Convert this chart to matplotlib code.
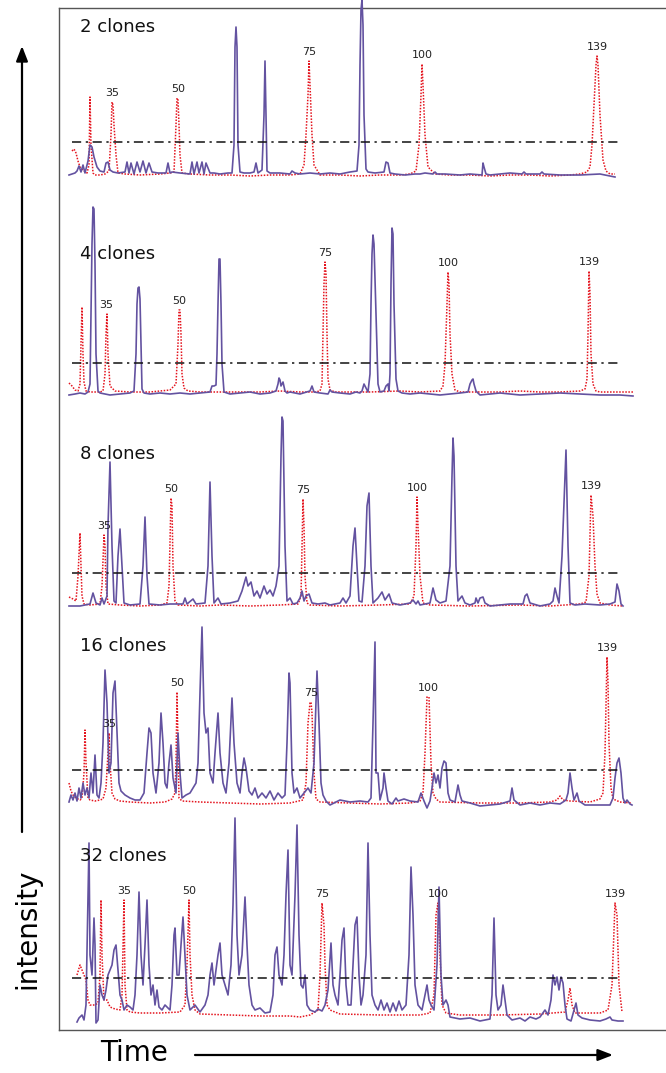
import matplotlib
matplotlib.use("Agg")
import matplotlib.pyplot as plt

# ---------------- data (time, intensity) ----------------
panel_labels = ["2 clones", "4 clones", "8 clones", "16 clones", "32 clones"]
marker_labels = ["35", "50", "75", "100", "139"]
thresholds = [33, 31, 33, 33, 37]

p1_sample = [(69,0),(72,1),(75,2),(77,4),(79,9),(81,3),(83,10),(85,2),(88,14),(90,30),(92,28),(94,18),(97,8),(100,4),
             (104,3),(106,12),(108,13),(110,5),(113,3),(118,2),(125,3),(127,13),(129,2),(131,12),(134,1),(137,13),(140,3),
             (143,14),(146,2),(149,12),(152,3),(158,2),(166,2),(168,12),(170,2),(172,3),(180,2),(190,1),(192,13),(194,1),
             (197,13),(199,2),(202,13),(204,1),(206,12),(210,2),(214,2),(220,1),(228,2),(232,2),(234,30),(235,128),(236,148),
             (237,128),(238,30),(240,3),(244,2),(250,2),(254,3),(256,12),(258,2),(262,5),(264,60),(265,114),(266,60),(267,4),
             (270,2),(280,2),(290,1),(292,4),(295,2),(300,1),(310,2),(320,1),(330,2),(340,1),(350,3),(357,4),(359,30),
             (360,110),(361,165),(362,175),(363,150),(364,60),(366,6),(368,3),(375,2),(384,3),(386,13),(388,12),(390,2),
             (395,1),(405,0),(415,1),(420,1),(425,2),(433,1),(435,3),(437,1),(445,1),(460,0),(470,1),(482,0),(483,12),
             (484,8),(486,1),(490,0),(500,1),(510,2),(522,1),(524,3),(526,1),(540,1),(542,3),(544,1),(560,0),(580,0),
             (600,1),(615,-2)]
p1_marker = [(72,24),(74,26),(76,22),(78,14),(80,8),(84,4),(87,2),(89,10),(90,78),(91,30),(93,2),(95,0),(100,0),(105,1),
             (109,4),(111,40),(112,73),(113,70),(114,50),(116,20),(118,2),(125,1),(140,0),(160,1),(170,2),(174,3),(176,50),
             (177,77),(178,75),(179,50),(180,20),(182,2),(190,1),(210,0),(230,0),(250,-1),(270,0),(290,0),(300,1),(304,10),
             (306,40),(308,80),(309,114),(310,90),(312,40),(314,10),(320,0),(340,0),(360,-1),(380,0),(400,0),(410,1),(416,4),
             (419,30),(421,80),(422,111),(423,90),(425,40),(428,8),(435,1),(450,0),(470,0),(490,-1),(510,0),(530,0),(550,-1),
             (570,0),(580,1),(587,3),(590,8),(592,30),(594,70),(596,110),(597,119),(598,110),(600,60),(603,15),(606,4),
             (610,1),(615,1)]

p2_sample = [(69,-1),(75,0),(80,1),(85,0),(88,2),(90,10),(91,80),(92,150),(93,187),(94,185),(95,130),(96,40),(98,3),
             (100,1),(105,0),(110,-1),(120,0),(130,1),(134,3),(136,40),(137,90),(138,106),(139,107),(140,95),(141,50),
             (142,5),(144,1),(150,0),(160,1),(170,0),(180,1),(190,0),(200,1),(210,2),(212,8),(214,8),(216,9),(217,40),
             (218,90),(219,135),(220,135),(221,90),(222,30),(224,2),(230,0),(240,1),(250,2),(260,0),(270,1),(276,3),
             (278,10),(279,16),(280,14),(281,8),(283,12),(285,3),(287,1),(290,2),(300,0),(310,3),(312,8),(314,2),(320,1),
             (328,0),(330,4),(332,2),(340,1),(350,0),(356,2),(360,1),(362,3),(364,10),(366,6),(368,2),(370,20),(371,90),
             (372,140),(373,159),(374,150),(376,80),(378,10),(380,2),(384,3),(386,8),(388,10),(389,3),(390,20),(391,110),
             (392,166),(393,160),(394,90),(396,15),(398,3),(402,1),(410,0),(420,1),(430,0),(440,-1),(450,0),(460,1),
             (468,2),(470,10),(472,14),(473,15),(474,10),(476,3),(480,-1),(490,0),(500,1),(520,-1),(540,0),(560,1),
             (580,0),(600,-1),(620,-1),(633,-2)]
p2_marker = [(69,11),(72,8),(75,4),(78,3),(80,10),(81,50),(82,87),(83,40),(84,12),(86,3),(90,2),(100,2),(103,3),(105,20),
             (106,60),(107,80),(108,40),(110,8),(115,3),(130,2),(150,2),(170,4),(176,10),(178,50),(179,84),(180,84),
             (181,60),(182,20),(184,6),(188,3),(200,2),(220,2),(240,2),(260,2),(280,3),(300,2),(315,2),(320,3),(322,10),
             (323,60),(324,110),(325,132),(326,120),(327,60),(328,15),(330,4),(335,2),(350,2),(370,2),(400,3),(420,2),
             (440,3),(443,8),(445,30),(447,90),(448,122),(449,110),(450,60),(452,20),(455,4),(460,2),(480,2),(500,2),
             (520,3),(540,2),(560,2),(580,3),(585,5),(587,15),(588,60),(589,123),(590,100),(591,40),(593,10),(596,3),
             (600,2),(620,2),(633,2)]

p3_sample = [(69,0),(80,0),(90,2),(93,13),(96,3),(100,1),(102,8),(104,2),(107,10),(108,80),(110,144),(112,60),(114,5),
             (116,3),(118,50),(120,77),(122,40),(124,3),(130,1),(140,2),(143,40),(145,89),(147,30),(149,2),(160,1),(170,2),
             (183,2),(185,8),(187,2),(193,7),(196,2),(205,3),(208,40),(210,124),(212,50),(214,3),(218,8),(221,2),(230,3),
             (238,5),(242,15),(246,29),(248,20),(251,24),(254,10),(257,15),(260,8),(264,20),(267,12),(270,16),(273,10),
             (276,20),(279,40),(281,150),(282,189),(283,185),(285,60),(287,5),(290,8),(293,2),(297,3),(300,8),(302,15),
             (304,5),(306,10),(309,12),(312,3),(318,2),(325,3),(330,1),(340,3),(343,8),(346,3),(350,10),(353,60),(355,78),
             (357,40),(359,5),(362,4),(365,40),(367,100),(369,113),(371,40),(373,3),(378,8),(382,14),(385,6),(389,12),
             (392,3),(400,1),(410,3),(413,6),(416,2),(418,5),(420,1),(430,3),(433,18),(436,6),(440,3),(446,5),(450,40),
             (452,130),(453,168),(454,150),(456,40),(458,5),(462,10),(465,3),(470,1),(475,3),(476,8),(478,3),(480,8),
             (483,9),(485,3),(490,0),(500,1),(510,2),(523,2),(525,10),(527,12),(530,3),(540,0),(550,2),(553,5),(555,18),
             (557,10),(559,3),(562,50),(565,130),(566,156),(568,60),(570,3),(575,1),(585,2),(600,1),(610,2),(615,4),
             (617,22),(619,15),(621,2),(623,0)]
p3_marker = [(69,9),(73,7),(76,5),(78,30),(80,73),(81,40),(82,10),(84,2),(90,1),(100,2),(102,20),(104,71),(105,60),
             (106,20),(108,2),(120,1),(140,0),(160,1),(167,3),(169,20),(171,108),(172,100),(173,40),(175,5),(178,1),
             (200,0),(220,1),(250,0),(280,1),(298,2),(301,10),(303,107),(304,80),(305,30),(307,3),(310,1),(340,0),
             (380,1),(410,2),(414,10),(416,60),(417,109),(418,80),(420,30),(423,3),(430,1),(470,0),(520,1),(550,0),
             (565,1),(580,2),(586,4),(589,30),(591,111),(593,90),(595,40),(597,12),(600,3),(610,1),(623,0)]

p4_sample = [(69,1),(71,8),(73,3),(75,10),(77,2),(79,15),(81,5),(83,20),(85,8),(87,15),(89,5),(91,30),(93,10),(95,48),
             (97,8),(99,5),(101,20),(103,60),(105,133),(107,100),(109,30),(111,40),(113,110),(115,122),(117,70),(119,20),
             (121,12),(125,8),(130,5),(135,3),(140,3),(144,10),(147,50),(149,75),(151,70),(153,30),(156,10),(159,40),
             (161,90),(163,60),(165,20),(167,15),(169,40),(171,58),(173,25),(176,10),(178,70),(180,30),(182,5),(186,8),
             (190,10),(193,15),(196,20),(198,40),(200,110),(202,176),(204,90),(206,70),(208,75),(210,30),(213,20),
             (215,50),(218,90),(220,50),(223,20),(226,10),(229,40),(232,105),(234,60),(237,20),(240,10),(242,30),(244,45),
             (246,35),(249,12),(252,8),(255,15),(258,5),(262,10),(266,5),(270,12),(274,3),(278,10),(282,5),(285,8),
             (287,60),(289,130),(290,120),(292,30),(294,10),(297,15),(300,5),(304,10),(308,15),(311,10),(314,40),
             (317,132),(319,80),(321,20),(323,8),(326,2),(330,-2),(340,3),(350,1),(360,2),(368,1),(371,5),(373,80),
             (375,161),(376,30),(378,30),(380,3),(383,15),(384,30),(386,15),(388,2),(392,-1),(396,5),(398,2),(404,4),
             (410,2),(418,1),(421,10),(424,2),(427,-5),(430,2),(432,15),(434,30),(436,20),(438,28),(440,15),(442,35),
             (444,42),(446,40),(448,10),(450,3),(455,1),(458,18),(460,8),(462,2),(470,0),(480,-3),(490,-2),(500,-1),
             (510,2),(512,15),(514,3),(520,-2),(530,0),(540,-2),(550,0),(560,-1),(566,3),(568,10),(570,30),(572,15),
             (574,3),(577,10),(579,2),(585,-2),(600,-2),(610,-2),(613,5),(615,25),(617,40),(619,45),(621,30),(623,5),
             (625,0),(627,3),(630,-1),(632,-2)]
p4_marker = [(69,20),(71,12),(73,8),(76,5),(80,3),(82,5),(84,30),(85,73),(86,40),(88,5),(90,3),(95,2),(100,3),(103,4),
             (106,15),(108,50),(109,70),(110,40),(112,10),(115,4),(120,2),(130,1),(150,0),(165,1),(172,4),(175,10),
             (176,40),(177,111),(178,60),(179,5),(182,2),(200,1),(230,0),(260,-1),(290,0),(303,3),(306,20),(308,80),
             (310,100),(311,101),(312,90),(314,30),(316,4),(320,1),(350,0),(380,-1),(410,0),(420,2),(423,10),(425,50),
             (427,106),(429,106),(431,40),(433,10),(436,4),(440,1),(480,0),(520,0),(550,1),(557,3),(560,7),(563,3),
             (570,2),(590,1),(600,4),(603,10),(605,50),(607,146),(608,120),(609,60),(611,15),(613,4),(620,1),(632,0)]

p5_sample = [(77,-7),(79,-3),(82,0),(84,-5),(86,10),(88,120),(89,172),(90,60),(92,40),(94,97),(95,70),(96,-8),(98,-5),
             (100,30),(102,20),(104,15),(106,25),(108,40),(110,45),(112,50),(114,65),(116,70),(118,45),(120,20),(122,15),
             (124,5),(127,10),(130,8),(133,5),(135,20),(137,60),(139,123),(141,60),(143,30),(145,70),(147,115),(149,50),
             (151,20),(153,30),(155,10),(157,25),(159,8),(162,5),(165,10),(170,5),(172,30),(174,80),(175,87),(177,40),
             (179,40),(181,70),(183,98),(185,60),(187,20),(190,5),(195,10),(200,3),(205,10),(208,20),(210,40),(212,52),
             (214,30),(216,45),(218,60),(220,72),(222,40),(225,30),(228,20),(231,50),(233,110),(235,197),(237,80),
             (239,40),(242,60),(245,118),(247,70),(249,30),(252,10),(255,5),(260,7),(265,2),(270,3),(273,20),(275,60),
             (277,68),(279,40),(282,30),(284,60),(286,120),(288,165),(290,50),(292,40),(295,120),(297,190),(299,80),
             (301,30),(303,27),(305,40),(307,10),(310,5),(315,3),(318,6),(322,4),(325,10),(328,25),(331,72),(333,30),
             (335,20),(338,10),(340,40),(342,75),(344,87),(346,30),(348,10),(351,10),(353,50),(355,90),(357,98),(359,40),
             (361,10),(363,20),(366,60),(368,172),(370,80),(372,20),(375,10),(378,5),(381,15),(384,5),(387,12),(390,3),
             (393,12),(396,4),(399,14),(402,5),(406,10),(409,60),(411,148),(413,100),(415,30),(418,10),(422,5),(425,20),
             (427,30),(429,15),(431,10),(434,5),(437,50),(439,128),(441,40),(443,10),(446,15),(448,10),(450,-2),(460,-4),
             (470,-3),(480,-6),(490,-4),(492,20),(494,97),(496,20),(498,5),(501,10),(503,30),(505,15),(507,0),(512,-5),
             (520,-3),(525,-6),(530,-2),(536,-4),(540,-2),(545,5),(548,0),(551,15),(553,40),(555,30),(557,38),(559,25),
             (561,38),(563,32),(565,10),(567,-4),(571,-6),(574,5),(576,12),(578,0),(582,-3),(590,-5),(600,-6),(606,-4),
             (610,-2),(612,-5),(618,-6),(623,-6)]
p5_marker = [(77,40),(80,50),(82,45),(84,40),(86,35),(88,15),(90,10),(95,10),(98,12),(100,40),(101,115),(102,60),(104,15),
             (107,15),(110,8),(115,6),(120,5),(122,20),(124,115),(125,30),(127,5),(130,3),(140,2),(160,2),(180,3),(185,10),
             (187,50),(189,115),(190,60),(192,20),(195,5),(200,1),(230,0),(260,-1),(290,-1),(300,-2),(310,0),(318,5),
             (320,40),(322,112),(324,90),(325,50),(327,10),(330,5),(340,1),(380,0),(420,0),(430,2),(434,20),(436,100),
             (438,112),(440,60),(442,10),(446,2),(460,0),(500,0),(540,1),(565,3),(568,15),(570,27),(572,10),(575,2),
             (600,2),(608,5),(612,30),(615,112),(617,100),(619,30),(622,3)]

# marker peak times for labels (35, 50, 75, 100, 139) per panel
p1_marker_peaks = [112, 178, 309, 422, 597]
p2_marker_peaks = [106, 179, 325, 448, 589]
p3_marker_peaks = [104, 171, 303, 417, 591]
p4_marker_peaks = [109, 177, 311, 428, 607]
p5_marker_peaks = [124, 189, 322, 438, 615]

samples = [p1_sample, p2_sample, p3_sample, p4_sample, p5_sample]
markers = [p1_marker, p2_marker, p3_marker, p4_marker, p5_marker]
marker_peaks = [p1_marker_peaks, p2_marker_peaks, p3_marker_peaks, p4_marker_peaks, p5_marker_peaks]

# ---------------- layout ----------------
W, H = 666, 1073
fig = plt.figure(figsize=(W / 100, H / 100), dpi=100)

box_l, box_r, box_t, box_b = 59, 667, 8, 1030
ax = fig.add_axes([box_l / W, (H - box_b) / H, (box_r - box_l) / W, (box_b - box_t) / H])
ax.set_xlim(box_l, box_r)
ax.set_ylim(H - box_b, H - box_t)
ax.set_xticks([])
ax.set_yticks([])
for side in ["left", "top", "bottom"]:
    ax.spines[side].set_color("#555555")
    ax.spines[side].set_linewidth(1.0)
ax.spines["right"].set_visible(False)

baselines_px = [175, 394, 606, 803, 1015]
label_y_px = [27, 254, 454, 646, 856]
purple = "#6352a0"
red = "#e4141e"

for i in range(5):
    base = H - baselines_px[i]
    st = [p[0] for p in samples[i]]
    sh = [base + p[1] for p in samples[i]]
    mt = [p[0] for p in markers[i]]
    mh = [base + p[1] for p in markers[i]]
    ax.plot(st, sh, color=purple, lw=1.2, zorder=3, clip_on=False)
    ax.plot(mt, mh, color=red, lw=1.1, ls=(0, (1, 1)), zorder=2)
    ax.plot([72, 620], [base + thresholds[i]] * 2, color="#111111", lw=1.1,
            ls=(0, (6, 3, 1.5, 3)), zorder=4)
    ax.text(80, H - label_y_px[i], panel_labels[i], fontsize=13, ha="left",
            va="center", color="#111111", zorder=5)
    for lab, t in zip(marker_labels, marker_peaks[i]):
        top = max(h for (tt, h) in markers[i] if abs(tt - t) <= 3)
        ax.text(t, base + top + 4, lab, fontsize=8, ha="center", va="bottom",
                color="#222222", zorder=5)

# overlay for axis titles and arrows
ov = fig.add_axes([0, 0, 1, 1], facecolor="none")
ov.set_xlim(0, W)
ov.set_ylim(H, 0)
ov.axis("off")
ov.annotate("", xy=(22, 46), xytext=(22, 832),
            arrowprops=dict(arrowstyle="-|>,head_length=0.9,head_width=0.35",
                            color="black", lw=1.6, shrinkA=0, shrinkB=0))
ov.annotate("", xy=(613, 1055), xytext=(195, 1055),
            arrowprops=dict(arrowstyle="-|>,head_length=0.9,head_width=0.35",
                            color="black", lw=1.6, shrinkA=0, shrinkB=0))
ov.text(27, 929, "intensity", rotation=90, fontsize=20, ha="center", va="center")
ov.text(134, 1053, "Time", fontsize=20, ha="center", va="center")

fig.savefig("out.png", dpi=100)
